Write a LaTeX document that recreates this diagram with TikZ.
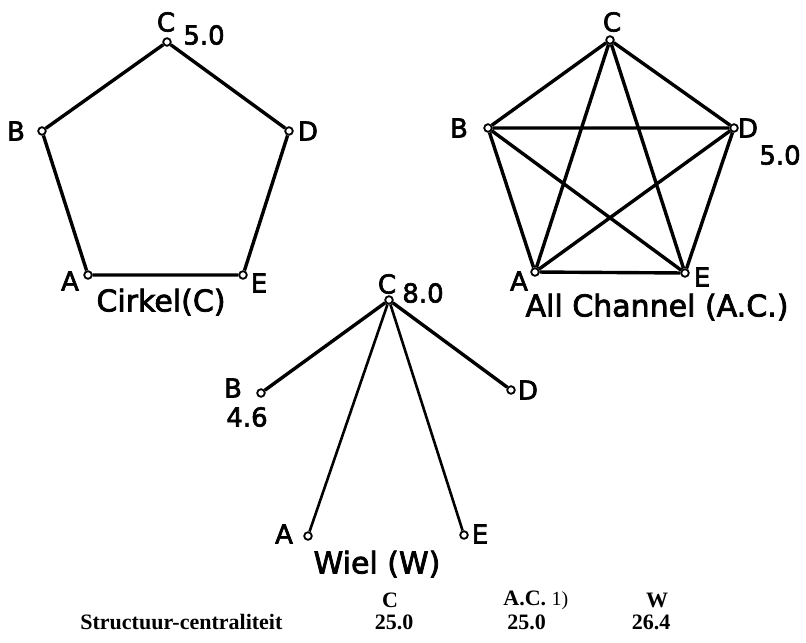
\documentclass[tikz,border=0pt]{standalone}
\usepackage{fontspec}
\setmainfont{Liberation Serif}
\newfontfamily\lblfont[FakeBold=2.5]{DejaVu Sans}
\begin{document}
\begin{tikzpicture}[x=0.5pt,y=-0.5pt,
  vtx/.style={circle,draw,fill=white,inner sep=0pt,minimum size=3.8pt,line width=0.9pt},
  lbl/.style={font=\lblfont\fontsize{13}{15}\selectfont,inner sep=0pt},
  title/.style={font=\lblfont\fontsize{15}{17}\selectfont,inner sep=0pt},
  edge/.style={line width=1.7pt},
  spoke/.style={line width=1.3pt},
  tbl/.style={font=\bfseries\fontsize{11}{13}\selectfont,inner sep=0pt}]
\useasboundingbox (0,0) rectangle (806,642);

% ---- Cirkel (C) ----
\node[vtx] (cA) at (88,275) {};
\node[vtx] (cB) at (42,131) {};
\node[vtx] (cC) at (167,42) {};
\node[vtx] (cD) at (289,131) {};
\node[vtx] (cE) at (243,275) {};
\draw[edge] (cA) -- (cB) -- (cC) -- (cD) -- (cE) -- (cA);
\node[lbl] (cAl) at (70,281) {A};
\node[lbl] (cBl) at (16,131) {B};
\node[lbl] (cCl) at (166,22) {C};
\node[lbl] (cCv) at (204,35) {5.0};
\node[lbl] (cDl) at (308,131) {D};
\node[lbl] (cEl) at (259,283) {E};
\node[title] (cT) at (161,302) {Cirkel(C)};

% ---- All Channel (A.C.) ----
\node[vtx] (aA) at (535,272) {};
\node[vtx] (aB) at (488,128) {};
\node[vtx] (aC) at (610,40) {};
\node[vtx] (aD) at (734,128) {};
\node[vtx] (aE) at (685,273) {};
\draw[edge] (aA) -- (aB) -- (aC) -- (aD) -- (aE) -- (aA);
\draw[edge] (aA) -- (aC) -- (aE) -- (aB) -- (aD) -- (aA);
\node[lbl] (aAl) at (519,281) {A};
\node[lbl] (aBl) at (459,128) {B};
\node[lbl] (aCl) at (612,22) {C};
\node[lbl] (aDl) at (748,128) {D};
\node[lbl] (aDv) at (780,155) {5.0};
\node[lbl] (aEl) at (702,277) {E};
\node[title] (aT) at (657,307) {All Channel (A.C.)};

% ---- Wiel (W) ----
\node[vtx] (wA) at (308,536) {};
\node[vtx] (wB) at (261,393) {};
\node[vtx] (wC) at (389,300) {};
\node[vtx] (wD) at (511,390) {};
\node[vtx] (wE) at (464,535) {};
\draw[edge] (wC) -- (wB);
\draw[edge] (wC) -- (wD);
\draw[spoke] (wC) -- (wA);
\draw[spoke] (wC) -- (wE);
\node[lbl] (wAl) at (284,534) {A};
\node[lbl] (wBl) at (233,388) {B};
\node[lbl] (wBv) at (247,417) {4.6};
\node[lbl] (wCl) at (387,284) {C};
\node[lbl] (wCv) at (423,293) {8.0};
\node[lbl] (wDl) at (528,390) {D};
\node[lbl] (wEl) at (480,534) {E};
\node[title] (wT) at (377,564) {Wiel (W)};

% ---- table ----
\node[tbl] (hC) at (390,600) {C};
\node[tbl,anchor=west] (hAC) at (503,600) {A.C. {\mdseries\fontsize{10}{12}\selectfont 1)}};
\node[tbl] (hW) at (657,600) {W};
\node[tbl,anchor=west] (rowT) at (80,622) {Structuur-centraliteit};
\node[tbl] (vC) at (394,622) {25.0};
\node[tbl,anchor=west] (vAC) at (507,622) {25.0};
\node[tbl] (vW) at (651,622) {26.4};
\end{tikzpicture}
\end{document}
